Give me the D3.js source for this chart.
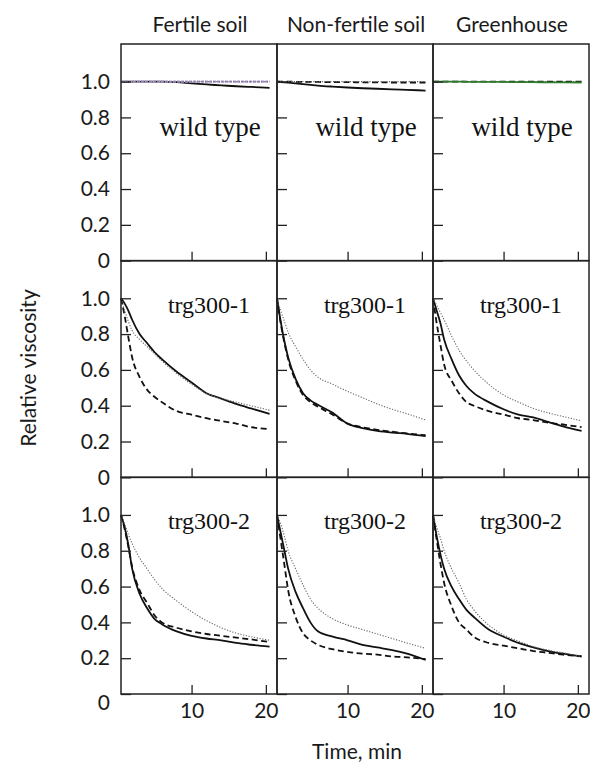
<!DOCTYPE html>
<html>
<head>
<meta charset="utf-8">
<script src="https://cdn.jsdelivr.net/npm/d3@7"></script>
<style>
body { margin: 0; background: #fff; }
</style>
</head>
<body>
<div id="chart"></div>
<script>
var times = [0.5, 1, 1.5, 2, 3, 4, 5, 6, 8, 10, 12, 14, 16, 18, 20.5];
var conditions = ["Fertile soil", "Non-fertile soil", "Greenhouse"];
var genotypes = ["wild type", "trg300-1", "trg300-2"];
var yTicks = [0, 0.2, 0.4, 0.6, 0.8, 1.0];
var xTicks = [10, 20];

// each array: one list per condition (fertile, non-fertile, greenhouse)
var wildSolid = [
	[1, 1, 1, 1, 1, 1, 1, 1, 0.997, 0.99, 0.984, 0.979, 0.974, 0.97, 0.965],
	[1, 0.998, 0.996, 0.994, 0.99, 0.986, 0.982, 0.978, 0.972, 0.967, 0.963, 0.96, 0.957, 0.954, 0.95],
	[1, 1, 1, 1, 1, 1, 0.999, 0.999, 0.998, 0.998, 0.997, 0.997, 0.996, 0.996, 0.995]
];
var wildDashed = [
	[1, 1, 1, 1, 1, 1, 1, 1, 1, 1, 1, 1, 1, 1, 1],
	[1, 1, 1, 1, 0.999, 0.999, 0.998, 0.998, 0.997, 0.997, 0.996, 0.996, 0.995, 0.995, 0.995],
	[1, 1, 1, 1, 1, 1, 1, 1, 1, 1, 1, 1, 1, 1, 1]
];
var wildDotted = [
	[1, 1, 1, 1, 1, 1, 1, 1, 1, 1, 1, 1, 1, 1, 1],
	[1, 1, 1, 1, 1, 1, 1, 1, 1, 1, 1, 1, 1, 1, 1],
	[1, 1, 1, 1, 1, 1, 1, 1, 1, 1, 1, 1, 1, 1, 1]
];
var trg1Solid = [
	[1, 0.97, 0.93, 0.88, 0.8, 0.75, 0.7, 0.66, 0.59, 0.53, 0.47, 0.44, 0.41, 0.385, 0.355],
	[1, 0.87, 0.76, 0.67, 0.55, 0.47, 0.43, 0.405, 0.36, 0.3, 0.275, 0.26, 0.25, 0.243, 0.23],
	[1, 0.93, 0.86, 0.77, 0.66, 0.57, 0.51, 0.47, 0.42, 0.38, 0.35, 0.335, 0.31, 0.285, 0.26]
];
var trg1Dashed = [
	[1, 0.9, 0.78, 0.67, 0.56, 0.49, 0.45, 0.42, 0.37, 0.35, 0.33, 0.315, 0.3, 0.28, 0.27],
	[1, 0.86, 0.75, 0.66, 0.54, 0.46, 0.42, 0.395, 0.35, 0.3, 0.28, 0.265, 0.255, 0.245, 0.235],
	[1, 0.86, 0.74, 0.63, 0.54, 0.47, 0.42, 0.4, 0.37, 0.35, 0.33, 0.32, 0.305, 0.295, 0.28]
];
var trg1Dotted = [
	[1, 0.93, 0.87, 0.82, 0.77, 0.73, 0.69, 0.65, 0.58, 0.52, 0.47, 0.44, 0.42, 0.4, 0.375],
	[1, 0.93, 0.87, 0.81, 0.73, 0.66, 0.6, 0.56, 0.52, 0.48, 0.445, 0.41, 0.38, 0.355, 0.32],
	[1, 0.96, 0.92, 0.88, 0.79, 0.71, 0.65, 0.6, 0.52, 0.46, 0.42, 0.385, 0.36, 0.34, 0.315]
];
var trg2Solid = [
	[1, 0.93, 0.83, 0.7, 0.56, 0.48, 0.42, 0.39, 0.35, 0.325, 0.31, 0.3, 0.285, 0.275, 0.265],
	[1, 0.9, 0.8, 0.7, 0.57, 0.48, 0.4, 0.35, 0.32, 0.3, 0.275, 0.26, 0.245, 0.225, 0.19],
	[1, 0.88, 0.78, 0.7, 0.6, 0.53, 0.47, 0.43, 0.36, 0.32, 0.285, 0.26, 0.24, 0.225, 0.21]
];
var trg2Dashed = [
	[1, 0.92, 0.82, 0.71, 0.58, 0.51, 0.44, 0.4, 0.37, 0.35, 0.335, 0.325, 0.315, 0.305, 0.29],
	[1, 0.86, 0.72, 0.58, 0.43, 0.34, 0.3, 0.275, 0.25, 0.235, 0.225, 0.22, 0.21, 0.205, 0.195],
	[1, 0.86, 0.73, 0.62, 0.49, 0.4, 0.36, 0.32, 0.285, 0.27, 0.255, 0.24, 0.23, 0.22, 0.21]
];
var trg2Dotted = [
	[1, 0.95, 0.89, 0.84, 0.76, 0.7, 0.64, 0.59, 0.52, 0.46, 0.41, 0.37, 0.34, 0.32, 0.3],
	[1, 0.95, 0.88, 0.8, 0.7, 0.61, 0.53, 0.48, 0.42, 0.385, 0.36, 0.335, 0.31, 0.285, 0.255],
	[1, 0.93, 0.87, 0.8, 0.7, 0.62, 0.53, 0.47, 0.385, 0.33, 0.295, 0.265, 0.245, 0.23, 0.21]
];

var series = [
	[wildSolid, wildDashed, wildDotted],
	[trg1Solid, trg1Dashed, trg1Dotted],
	[trg2Solid, trg2Dashed, trg2Dotted]
];

// solid, dashed, dotted
var lineStyles = [
	{stroke: "#111", width: 1.8, dash: null},
	{stroke: "#111", width: 1.8, dash: "6,3.5"},
	{stroke: "#666", width: 1.1, dash: "1.2,1.6"}
];

// the wild type lines have a tint in two panels
function strokeFor(gi, ci, si) {
	if (gi === 0 && ci === 0 && si === 1) return "#a898c2";
	if (gi === 0 && ci === 0 && si === 2) return "#7c6c98";
	if (gi === 0 && ci === 2 && si === 0) return "#2f7d2f";
	return lineStyles[si].stroke;
}

var sans = "Lato, 'Open Sans', sans-serif",
	serif = "'Liberation Serif', 'DejaVu Serif', serif";

var svg = d3.select("#chart").append("svg")
	.attr("width", 590)
	.attr("height", 772)
	.style("background", "#fff");

var col = d3.scaleBand().domain(conditions).range([121, 589]);
var row = d3.scaleBand().domain(genotypes).range([44, 694]);

var x = d3.scaleLinear().domain([0.5, 21.5]).range([0, col.bandwidth()]);
var y = d3.scaleLinear().domain([0, 1.21]).range([row.bandwidth(), 0]);

var line = d3.line()
	.x(function(d, i){ return x(times[i]); })
	.y(function(d){ return y(d); })
	.curve(d3.curveMonotoneX);

genotypes.forEach(function(gname, gi){
	conditions.forEach(function(cname, ci){
		var g = svg.append("g")
			.attr("transform", "translate(" + col(cname) + "," + row(gname) + ")");

		// greenhouse wild type: the green trace sits on top
		var order = (gi === 0 && ci === 2) ? [2, 1, 0] : [0, 1, 2];
		order.forEach(function(si){
			var s = series[gi][si];
			g.append("path")
				.attr("d", line(s[ci]))
				.attr("fill", "none")
				.attr("stroke", strokeFor(gi, ci, si))
				.attr("stroke-width", (gi === 0 && ci === 0 && si === 1) ? 2.4 : lineStyles[si].width)
				.attr("stroke-dasharray", (gi === 0 && ci === 0 && si === 1) ? "3,1" : lineStyles[si].dash);
		});

		var yAxis = d3.axisLeft(y)
			.tickValues(yTicks)
			.tickSizeInner(-10)
			.tickSizeOuter(0)
			.tickPadding(11)
			.tickFormat(ci === 0 ? function(d){ return d === 0 ? "0" : d.toFixed(1); } : "");
		var ya = g.append("g").call(yAxis);

		// bottom row: the "0" label sits a little lower
		if (gi === 2) {
			ya.selectAll(".tick text").filter(function(d){ return d === 0; })
				.attr("dy", "0.75em");
		}

		var xAxis = d3.axisBottom(x)
			.tickValues(xTicks)
			.tickSizeInner(-9)
			.tickSizeOuter(0)
			.tickPadding(9)
			.tickFormat(gi === 2 ? d3.format("d") : "");
		var xa = g.append("g")
			.attr("transform", "translate(0," + row.bandwidth() + ")")
			.call(xAxis);

		[ya, xa].forEach(function(a){
			a.select(".domain").remove();
			a.selectAll("line").attr("stroke", "#222").attr("stroke-width", 1.3);
			a.selectAll("text")
				.attr("fill", "#1a1a1a")
				.style("font-family", sans)
				.style("font-size", "21px");
		});

		g.append("rect")
			.attr("width", col.bandwidth())
			.attr("height", row.bandwidth())
			.attr("fill", "none")
			.attr("stroke", "#222")
			.attr("stroke-width", 1.5);

		g.append("text")
			.attr("x", gi === 0 ? 89 : 88)
			.attr("y", gi === 0 ? 92 : 52)
			.attr("text-anchor", "middle")
			.style("font-family", serif)
			.style("font-size", gi === 0 ? "27px" : "24px")
			.attr("fill", "#111")
			.text(gname);
	});
});

// column titles
svg.selectAll(".coltitle").data(conditions)
	.enter().append("text")
		.attr("class", "coltitle")
		.attr("x", function(d){ return col(d) + col.bandwidth() / 2 + 1; })
		.attr("y", 32)
		.attr("text-anchor", "middle")
		.style("font-family", sans)
		.style("font-size", "21px")
		.attr("fill", "#1a1a1a")
		.text(function(d){ return d; });

svg.append("text")
	.attr("transform", "translate(29,368) rotate(-90)")
	.attr("dy", "0.35em")
	.attr("text-anchor", "middle")
	.style("font-family", sans)
	.style("font-size", "21px")
	.attr("fill", "#1a1a1a")
	.text("Relative viscosity");

svg.append("text")
	.attr("x", 357)
	.attr("y", 759)
	.attr("text-anchor", "middle")
	.style("font-family", sans)
	.style("font-size", "21px")
	.attr("fill", "#1a1a1a")
	.text("Time, min");
</script>
</body>
</html>
